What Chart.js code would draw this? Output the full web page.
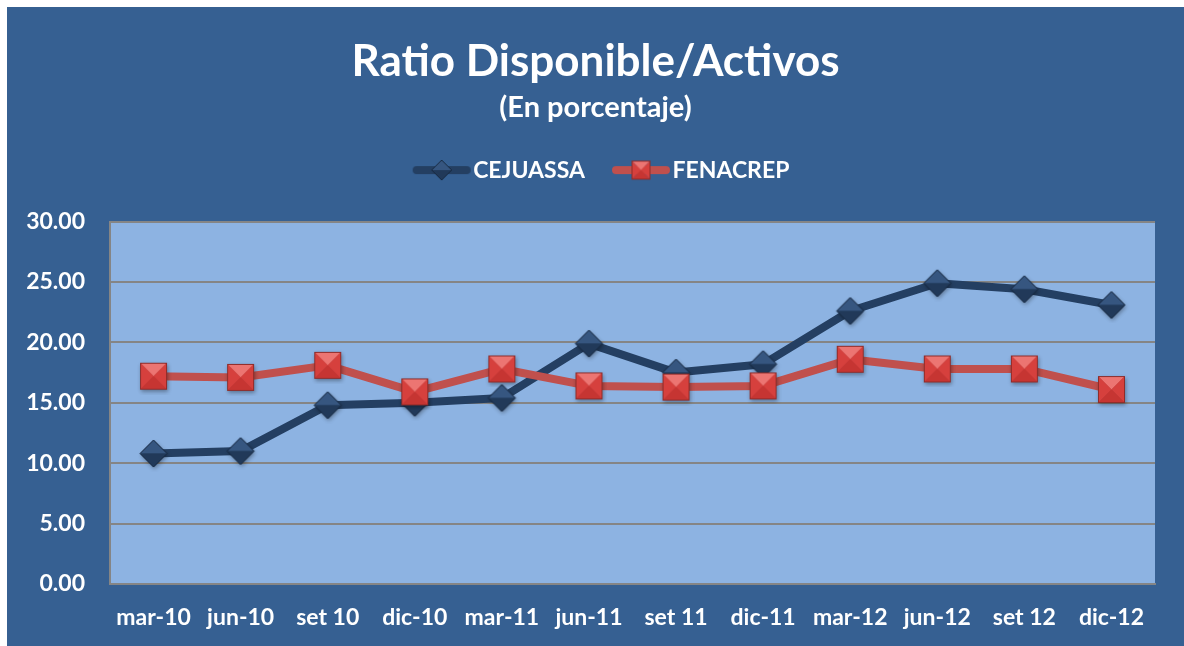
<!DOCTYPE html>
<html>
<head>
<meta charset="utf-8">
<script src="https://cdn.jsdelivr.net/npm/chart.js@4/dist/chart.umd.min.js"></script>
<style>
  html, body { margin: 0; padding: 0; background: #fff; }
  #wrap { position: absolute; left: 7px; top: 7px; width: 1177px; height: 639px; background: #366092; }
</style>
</head>
<body>
<div id="wrap"><canvas id="chart"></canvas></div>
<script>
/* data */
const periods = ["mar-10", "jun-10", "set 10", "dic-10", "mar-11", "jun-11",
                 "set 11", "dic-11", "mar-12", "jun-12", "set 12", "dic-12"];
const cejuassa = [10.8, 11.0, 14.8, 15.0, 15.4, 19.9, 17.5, 18.2, 22.6, 24.9, 24.4, 23.1];
const fenacrep = [17.2, 17.1, 18.1, 15.9, 17.8, 16.4, 16.3, 16.4, 18.6, 17.8, 17.8, 16.1];
const yMin = 0;
const yMax = 30;
const yStep = 5;

const FONT = "Lato";
const BLUE_LINE = "#243F62";
const RED_LINE = "#C0504D";

/* bevelled square marker */
function squareMarker(side, shadow) {
  const pad = shadow ? 5 : 1;
  const c = document.createElement("canvas");
  c.width = side + pad * 2;
  c.height = side + pad * 2;
  const g = c.getContext("2d");
  const x0 = pad, y0 = pad, x1 = pad + side, y1 = pad + side;
  const cx = c.width / 2, cy = c.height / 2;
  if (shadow) {
    g.save();
    g.shadowColor = "rgba(0,0,0,0.35)";
    g.shadowBlur = 4;
    g.shadowOffsetX = 1;
    g.shadowOffsetY = 2;
    g.fillStyle = "#B53A38";
    g.fillRect(x0, y0, side, side);
    g.restore();
  }
  const tri = (pts, col) => {
    g.beginPath();
    g.moveTo(pts[0], pts[1]);
    g.lineTo(pts[2], pts[3]);
    g.lineTo(pts[4], pts[5]);
    g.closePath();
    g.fillStyle = col;
    g.fill();
  };
  tri([x0, y0, x1, y0, cx, cy], "#EC7572");
  tri([x0, y0, x0, y1, cx, cy], "#D6403D");
  tri([x1, y0, x1, y1, cx, cy], "#D6403D");
  tri([x0, y1, x1, y1, cx, cy], "#C63532");
  g.strokeStyle = "#8E2C2A";
  g.lineWidth = 1;
  g.strokeRect(x0 + 0.5, y0 + 0.5, side - 1, side - 1);
  return c;
}

/* bevelled diamond marker */
function diamondMarker(size, shadow) {
  const pad = shadow ? 5 : 1;
  const c = document.createElement("canvas");
  c.width = size + pad * 2;
  c.height = size + pad * 2;
  const g = c.getContext("2d");
  const cx = c.width / 2, cy = c.height / 2, h = size / 2;
  const path = () => {
    g.beginPath();
    g.moveTo(cx, cy - h);
    g.lineTo(cx + h, cy);
    g.lineTo(cx, cy + h);
    g.lineTo(cx - h, cy);
    g.closePath();
  };
  if (shadow) {
    g.save();
    g.shadowColor = "rgba(0,0,0,0.35)";
    g.shadowBlur = 4;
    g.shadowOffsetX = 1;
    g.shadowOffsetY = 2;
    path();
    g.fillStyle = "#243F62";
    g.fill();
    g.restore();
  }
  g.beginPath();
  g.moveTo(cx - h, cy); g.lineTo(cx, cy - h); g.lineTo(cx + h, cy); g.closePath();
  g.fillStyle = "#365680";
  g.fill();
  g.beginPath();
  g.moveTo(cx - h, cy); g.lineTo(cx, cy + h); g.lineTo(cx + h, cy); g.closePath();
  g.fillStyle = "#213959";
  g.fill();
  path();
  g.strokeStyle = "#17283F";
  g.lineWidth = 1;
  g.stroke();
  return c;
}

/* legend sample: line with marker, drawn on the right part of a wider canvas
   so it sits right next to the label text */
const LEGEND_BOX = 60;
function legendSample(color, marker) {
  const c = document.createElement("canvas");
  c.width = LEGEND_BOX + 20;
  c.height = 26;
  const g = c.getContext("2d");
  const x1 = c.width - 1, x0 = x1 - 58;
  g.strokeStyle = color;
  g.lineWidth = 8;
  g.lineCap = "round";
  g.beginPath();
  g.moveTo(x0 + 4, 13);
  g.lineTo(x1 - 4, 13);
  g.stroke();
  g.drawImage(marker, (x0 + x1) / 2 - marker.width / 2, 13 - marker.height / 2);
  return c;
}

const bluePoint = diamondMarker(27, true);
const redPoint = squareMarker(27, true);
const blueLegend = legendSample(BLUE_LINE, diamondMarker(20, false));
const redLegend = legendSample(RED_LINE, squareMarker(19, false));

/* light blue plot area */
const plotBackground = {
  id: "plotBackground",
  beforeDraw(chart) {
    const a = chart.chartArea;
    const ctx = chart.ctx;
    ctx.save();
    ctx.fillStyle = "#8DB3E2";
    ctx.fillRect(a.left, a.top, a.right - a.left, a.bottom - a.top);
    ctx.restore();
  }
};

/* empty axes used only as spacers */
function spacer(axis, position, size) {
  return {
    type: "linear",
    axis: axis,
    position: position,
    display: true,
    grid: { display: false },
    border: { display: false },
    ticks: { display: false },
    afterFit: (scale) => {
      if (axis === "x") scale.height = size; else scale.width = size;
    }
  };
}

const chart = document.getElementById("chart");
const myChart = new Chart(chart, {
  type: "line",
  data: {
    labels: periods,
    datasets: [
      {
        label: "CEJUASSA",
        data: cejuassa,
        borderColor: BLUE_LINE,
        borderWidth: 8,
        borderCapStyle: "round",
        borderJoinStyle: "round",
        pointStyle: bluePoint,
        pointRadius: 13,
        tension: 0,
        order: 1
      },
      {
        label: "FENACREP",
        data: fenacrep,
        borderColor: RED_LINE,
        borderWidth: 8,
        borderCapStyle: "round",
        borderJoinStyle: "round",
        pointStyle: redPoint,
        pointRadius: 13,
        tension: 0,
        order: 0
      }
    ]
  },
  options: {
    responsive: true,
    maintainAspectRatio: false,
    animation: false,
    events: [],
    layout: { padding: 0 },
    plugins: {
      title: {
        display: true,
        text: "Ratio Disponible/Activos",
        color: "#fff",
        font: { family: FONT, size: 44, weight: "bold" },
        padding: { top: 28, bottom: 0 }
      },
      subtitle: {
        display: true,
        text: "(En porcentaje)",
        color: "#fff",
        font: { family: FONT, size: 29, weight: "bold" },
        padding: { top: 2, bottom: 18 }
      },
      legend: {
        labels: {
          usePointStyle: true,
          pointStyleWidth: LEGEND_BOX,
          padding: 16,
          color: "#fff",
          font: { family: FONT, size: 23, weight: "bold" },
          generateLabels: () => [
            { text: "CEJUASSA", pointStyle: blueLegend, fillStyle: BLUE_LINE, strokeStyle: BLUE_LINE, lineWidth: 0, hidden: false, datasetIndex: 0, fontColor: "#fff" },
            { text: "FENACREP", pointStyle: redLegend, fillStyle: RED_LINE, strokeStyle: RED_LINE, lineWidth: 0, hidden: false, datasetIndex: 1, fontColor: "#fff" }
          ]
        }
      },
      tooltip: { enabled: false }
    },
    scales: {
      x: {
        offset: true,
        afterFit: (scale) => { scale.height = 62; },
        grid: { display: false },
        border: { display: true, color: "#858585", width: 2 },
        ticks: {
          color: "#fff",
          padding: 12,
          maxRotation: 0,
          autoSkip: false,
          font: { family: FONT, size: 23, weight: "bold" }
        }
      },
      y: {
        min: yMin,
        max: yMax,
        afterFit: (scale) => { scale.width = 103; },
        grid: { color: "#858585", lineWidth: 2, drawTicks: false },
        border: { display: true, color: "#858585", width: 2 },
        ticks: {
          stepSize: yStep,
          color: "#fff",
          padding: 25,
          font: { family: FONT, size: 23, weight: "bold" },
          callback: (v) => v.toFixed(2)
        }
      },
      xTop: spacer("x", "top", 30),
      yRight: spacer("y", "right", 29)
    }
  },
  plugins: [plotBackground]
});
</script>
</body>
</html>
